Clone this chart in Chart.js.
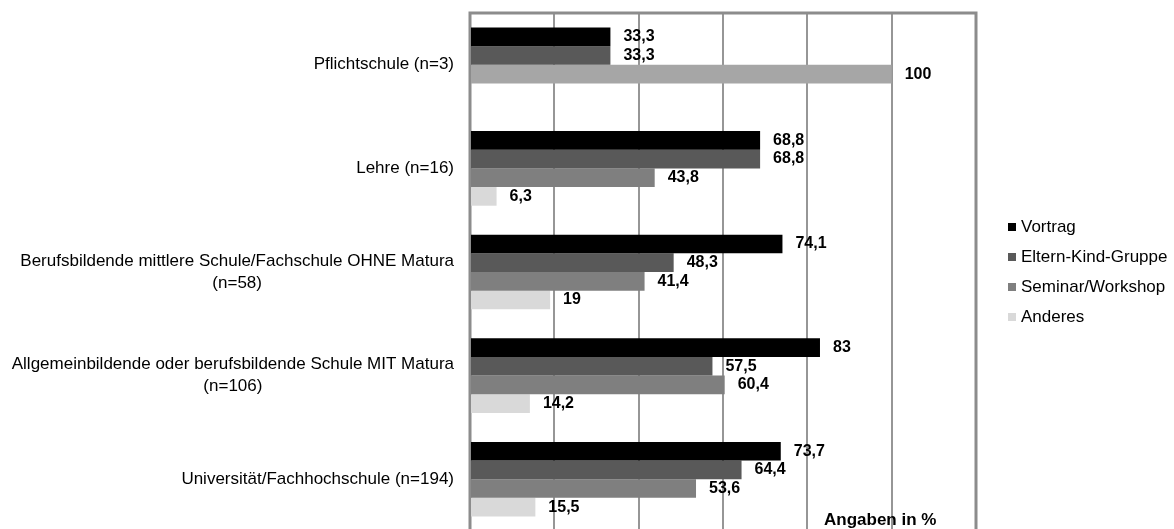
<!DOCTYPE html>
<html>
<head>
<meta charset="utf-8">
<script src="https://cdn.jsdelivr.net/npm/chart.js@4.4.1/dist/chart.umd.min.js"></script>
<style>
    html, body { margin: 0; padding: 0; background: #fff; overflow: hidden; }
    #wrap { position: relative; width: 1174px; height: 536px; }
</style>
</head>
<body>
<div id="wrap"><canvas id="chart"></canvas></div>
<script>
// Data
var categories = [
    'Pflichtschule (n=3)',
    'Lehre (n=16)',
    ['Berufsbildende mittlere Schule/Fachschule OHNE Matura', '(n=58)'],
    ['Allgemeinbildende oder berufsbildende Schule MIT Matura', '(n=106)'],
    'Universität/Fachhochschule (n=194)'
];
var seriesNames = ['Vortrag', 'Eltern-Kind-Gruppe', 'Seminar/Workshop', 'Anderes'];
var vortrag = [33.3, 68.8, 74.1, 83, 73.7];
var elternKind = [33.3, 68.8, 48.3, 57.5, 64.4];
var seminar = [100, 43.8, 41.4, 60.4, 53.6];
var anderes = [null, 6.3, 19, 14.2, 15.5];
var xTicks = [0, 20, 40, 60, 80, 100, 120];
var unitNote = 'Angaben in %';

var seriesColors = ['#000000', '#595959', '#7f7f7f', '#d9d9d9'];
// the 100 bar of the first group is drawn lighter in the original
var seminarColors = seminar.map(function (v, i) { return i === 0 ? '#a6a6a6' : seriesColors[2]; });

var FONT = '"Liberation Sans", Arial, sans-serif';

document.addEventListener('DOMContentLoaded', function () {
    var ctx = document.getElementById('chart').getContext('2d');

    // frame around plot area (top / left / right)
    var framePlugin = {
        id: 'frame',
        beforeDatasetsDraw: function (chart) {
            var a = chart.chartArea, c = chart.ctx;
            c.save();
            c.strokeStyle = '#8c8c8c';
            c.lineWidth = 3;
            c.beginPath();
            c.moveTo(a.left, a.bottom + 10);
            c.lineTo(a.left, a.top);
            c.lineTo(a.right, a.top);
            c.lineTo(a.right, a.bottom + 10);
            c.stroke();
            c.restore();
        }
    };

    // category labels: block right aligned, lines centred in the block
    var catLabelPlugin = {
        id: 'catLabels',
        afterDraw: function (chart) {
            var c = chart.ctx, yScale = chart.scales.y;
            var right = chart.chartArea.left - 16;
            c.save();
            c.font = '17px ' + FONT;
            c.fillStyle = '#000';
            c.textBaseline = 'middle';
            c.textAlign = 'center';
            categories.forEach(function (lab, i) {
                var lines = Array.isArray(lab) ? lab : [lab];
                var w = Math.max.apply(null, lines.map(function (l) { return c.measureText(l).width; }));
                var cy = yScale.getPixelForValue(i);
                lines.forEach(function (l, k) {
                    c.fillText(l, right - w / 2, cy + (k - (lines.length - 1) / 2) * 22);
                });
            });
            c.restore();
        }
    };

    // value labels next to bar ends
    var valueLabelPlugin = {
        id: 'valueLabels',
        afterDatasetsDraw: function (chart) {
            var c = chart.ctx;
            c.save();
            c.font = 'bold 16px ' + FONT;
            c.fillStyle = '#000';
            c.textBaseline = 'middle';
            c.textAlign = 'left';
            chart.data.datasets.forEach(function (ds, i) {
                var meta = chart.getDatasetMeta(i);
                meta.data.forEach(function (bar, j) {
                    var v = ds.data[j];
                    if (v === null || v === undefined) return;
                    c.fillText(String(v).replace('.', ','), bar.x + 13, bar.y);
                });
            });
            c.font = 'bold 17px ' + FONT;
            c.fillText(unitNote, chart.chartArea.right - 152, 520);
            c.restore();
        }
    };

    // legend on the right
    var legendPlugin = {
        id: 'sideLegend',
        afterDraw: function (chart) {
            var c = chart.ctx, a = chart.chartArea;
            var x = a.right + 32;
            var y0 = (a.top + a.bottom) / 2 - 45;
            c.save();
            c.font = '17px ' + FONT;
            c.textBaseline = 'middle';
            c.textAlign = 'left';
            chart.data.datasets.forEach(function (ds, i) {
                var y = y0 + i * 30;
                c.fillStyle = seriesColors[i];
                c.fillRect(x, y - 4, 8, 8);
                c.fillStyle = '#000';
                c.fillText(ds.label, x + 13, y);
            });
            c.restore();
        }
    };

    var datasets = [vortrag, elternKind, seminar, anderes].map(function (vals, i) {
        return {
            label: seriesNames[i],
            data: vals,
            backgroundColor: i === 2 ? seminarColors : seriesColors[i],
            borderWidth: 0,
            categoryPercentage: 0.72,
            barPercentage: 1.0
        };
    });

    new Chart(ctx, {
        type: 'bar',
        data: {
            labels: categories,
            datasets: datasets
        },
        options: {
            indexAxis: 'y',
            responsive: true,
            maintainAspectRatio: false,
            animation: false,
            layout: {
                padding: { left: 470, right: 198, top: 13, bottom: 5 }
            },
            plugins: {
                legend: { display: false },
                tooltip: { enabled: false }
            },
            scales: {
                x: {
                    min: xTicks[0],
                    max: xTicks[xTicks.length - 1],
                    ticks: { display: false, stepSize: xTicks[1] - xTicks[0] },
                    grid: { color: '#969696', lineWidth: 2, drawTicks: false },
                    border: { display: false }
                },
                y: {
                    display: false
                }
            }
        },
        plugins: [framePlugin, catLabelPlugin, valueLabelPlugin, legendPlugin]
    });
});
</script>
</body>
</html>
